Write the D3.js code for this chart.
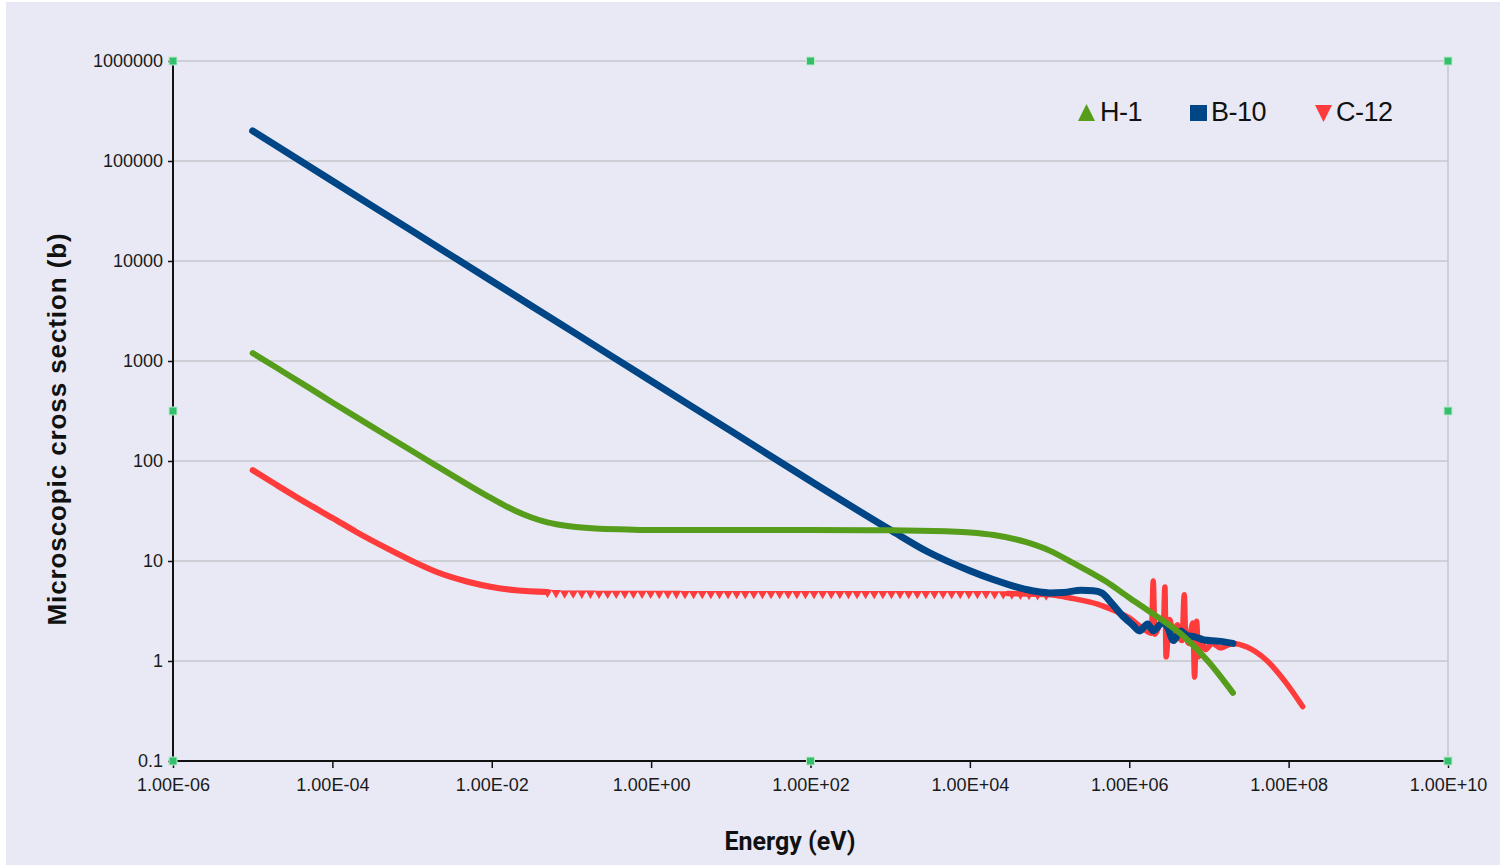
<!DOCTYPE html>
<html><head><meta charset="utf-8">
<script src="https://cdn.jsdelivr.net/npm/d3@7"></script>
<style>
html,body{margin:0;padding:0;background:#fff;}
svg{display:block;}
</style></head>
<body>
<svg id="c" width="1503" height="865"></svg>
<script>
// ---------- data (energy in eV, cross section in barns) ----------
const h1Energy = [1e-5,2e-5,5e-5,1e-4,2e-4,5e-4,1e-3,2e-3,5e-3,1e-2,2e-2,3.16e-2,5e-2,1e-1,2e-1,5e-1,1,10,100,1e3,5e3,1e4,2e4,5e4,1e5,2e5,5e5,1e6,2e6,5e6,1e7,2e7];
const h1Sigma  = [1200,855,545,385,275,176,126,90,58,42.2,31.6,27.2,24.3,22.1,21.1,20.65,20.4,20.4,20.4,20.3,19.8,19.3,18.2,15.5,12.7,9.5,6.3,4.3,2.95,1.72,0.97,0.48];

const b10Energy = [1e-5,1e-4,1e-3,1e-2,1e-1,1,10,100,1e3,3e3,1e4,2e4,5e4,1e5,1.5e5,2.5e5,3.5e5,4.5e5,6e5,8e5,1.1e6,1.35e6,1.7e6,2.0e6,2.6e6,3.0e6,3.6e6,4.4e6,5.3e6,6.5e6,8.7e6,1.3e7,2e7];
const b10Sigma  = [2.0e5,6.3e4,2.0e4,6.3e3,2.0e3,630,200,63,20.5,12.3,8.0,6.5,5.2,4.8,4.85,5.1,5.05,4.8,3.8,2.9,2.3,2.0,2.35,2.0,2.4,2.2,1.6,2.0,1.8,1.75,1.62,1.58,1.5];

const c12Energy = [1e-5,2e-5,5e-5,1e-4,2e-4,5e-4,1e-3,2e-3,5e-3,1e-2,2e-2,5e-2,1e-1,1,10,100,1e3,1e4,3e4,1e5,2e5,4e5,7e5,1e6,1.5e6,1.9e6,2.0e6,2.1e6,2.4e6,2.7e6,2.8e6,2.9e6,3.2e6,3.6e6,4.0e6,4.3e6,4.6e6,4.9e6,5.1e6,5.6e6,6.0e6,6.3e6,6.6e6,7.0e6,7.4e6,8e6,9e6,1.1e7,1.4e7,2e7,3e7,5.4e7,9.5e7,1.5e8];
const c12Sigma  = [81,57.5,37,27,19.5,13.2,10,7.8,6.2,5.5,5.1,4.9,4.81,4.78,4.76,4.76,4.76,4.76,4.72,4.6,4.2,3.7,3.1,2.7,2.1,1.9,6.3,1.85,2.3,2.6,5.5,1.1,2.6,1.9,2.3,1.7,1.6,4.6,1.8,1.5,2.1,2.4,0.69,2.5,1.1,1.7,1.3,1.5,1.35,1.5,1.38,1.0,0.59,0.35];

const seriesNames = ["H-1","B-10","C-12"];
const seriesColors = ["#579d1c","#004586","#ff3b3b"];
const yTickValues = [0.1,1,10,100,1000,10000,100000,1000000];
const yTickLabels = ["0.1","1","10","100","1000","10000","100000","1000000"];
const xTickValues = [1e-6,1e-4,1e-2,1e0,1e2,1e4,1e6,1e8,1e10];
const xTickLabels = ["1.00E-06","1.00E-04","1.00E-02","1.00E+00","1.00E+02","1.00E+04","1.00E+06","1.00E+08","1.00E+10"];

// ---------- layout ----------
const svg = d3.select("#c");
const L = 173, R = 1448, T = 61, B = 761;
const x = d3.scaleLog().domain([1e-6,1e10]).range([L,R]);
const y = d3.scaleLog().domain([0.1,1e6]).range([B,T]);

svg.append("rect").attr("x",6).attr("y",2).attr("width",1494).attr("height",863).attr("fill","#e8e9f4");

// grid
svg.append("g").selectAll("line").data(yTickValues).join("line")
  .attr("x1",L).attr("x2",R).attr("y1",d=>y(d)).attr("y2",d=>y(d))
  .attr("stroke","#c4c4cc").attr("stroke-width",1.5);
svg.append("line").attr("x1",R).attr("x2",R).attr("y1",T).attr("y2",B)
  .attr("stroke","#c4c4cc").attr("stroke-width",1.5);

// axes
const font = "'Liberation Sans', Arial, sans-serif";
const yAxis = d3.axisLeft(y).tickValues(yTickValues).tickFormat((d,i)=>yTickLabels[i]).tickSize(5).tickPadding(5);
const gy = svg.append("g").attr("transform",`translate(${L},0)`).call(yAxis);
const xAxis = d3.axisBottom(x).tickValues(xTickValues).tickFormat((d,i)=>xTickLabels[i]).tickSize(7).tickPadding(10);
const gx = svg.append("g").attr("transform",`translate(0,${B})`).call(xAxis);
[gx,gy].forEach(g=>{
  g.select(".domain").attr("stroke","#111").attr("stroke-width",2);
  g.selectAll(".tick line").attr("stroke","#111").attr("stroke-width",1.5);
  g.selectAll(".tick text").attr("font-family",font).attr("font-size",18).attr("fill","#1a1a1a");
});
gx.select(".domain").attr("d",`M${L},0H${R}`);
gy.select(".domain").attr("d",`M0,${T}V${B}`);

// series
const line = d3.line().x(d=>x(d[0])).y(d=>y(d[1])).curve(d3.curveMonotoneX);
const zip = (a,b)=>a.map((v,i)=>[v,b[i]]);
const h1 = zip(h1Energy,h1Sigma), b10 = zip(b10Energy,b10Sigma), c12 = zip(c12Energy,c12Sigma);

// C-12: line in 1/v and fast regions, dense triangle markers on the flat plateau
const c12Low = c12.filter(d=>d[0]<=5e-2);
const c12Mid = c12.filter(d=>d[0]>=5e-2 && d[0]<=1e5);
const c12High = c12.filter(d=>d[0]>=3e4);
const g = svg.append("g").attr("fill","none").attr("stroke-linejoin","round").attr("stroke-linecap","round");
g.append("path").attr("d",line(c12Low)).attr("stroke",seriesColors[2]).attr("stroke-width",6);
g.append("path").attr("d",line(c12High)).attr("stroke",seriesColors[2]).attr("stroke-width",5.5);
const midPath = g.append("path").attr("d",line(c12Mid)).attr("stroke","none");
const node = midPath.node(), len = node.getTotalLength();
const tri = d3.symbol().type(d3.symbolTriangle).size(40)();
const pts = d3.range(0,len,8.6).map(l=>node.getPointAtLength(l));
g.append("g").attr("stroke","none").selectAll("path").data(pts).join("path")
  .attr("d",tri).attr("transform",p=>`translate(${p.x},${p.y+0.5}) rotate(180)`).attr("fill",seriesColors[2]);

g.append("path").attr("d",line(b10)).attr("stroke",seriesColors[1]).attr("stroke-width",7);
g.append("path").attr("d",line(h1)).attr("stroke",seriesColors[0]).attr("stroke-width",6);

// selection handles
const handles = [[L,T],[(L+R)/2,T],[R,T],[L,(T+B)/2],[R,(T+B)/2],[L,B],[(L+R)/2,B],[R,B]];
svg.append("g").selectAll("rect").data(handles).join("rect")
  .attr("x",d=>d[0]-4).attr("y",d=>d[1]-4).attr("width",8).attr("height",8)
  .attr("fill","#32c06c").attr("stroke","#bfe9cc").attr("stroke-width",1);

// legend
const legX = [1078,1190,1315], legTextX = [1100,1211,1336];
const lg = svg.append("g");
seriesNames.forEach((n,i)=>{
  const cx = legX[i]+8.5, cy = 113;
  if(i===0) lg.append("path").attr("d",`M${cx},${cy-9}L${cx+8.5},${cy+8}L${cx-8.5},${cy+8}Z`).attr("fill",seriesColors[i]);
  if(i===1) lg.append("rect").attr("x",cx-8.5).attr("y",cy-8).attr("width",17).attr("height",16).attr("fill",seriesColors[i]);
  if(i===2) lg.append("path").attr("d",`M${cx-8.5},${cy-8}L${cx+8.5},${cy-8}L${cx},${cy+9}Z`).attr("fill",seriesColors[i]);
  lg.append("text").attr("x",legTextX[i]).attr("y",121).text(n)
    .attr("font-family","'Liberation Sans', Arial, sans-serif").attr("font-size",27).attr("fill","#111")
    .attr("letter-spacing",-0.5);
});

// axis titles
svg.append("text").attr("x",790).attr("y",850).attr("text-anchor","middle")
  .attr("font-family","Roboto, 'Liberation Sans', sans-serif").attr("font-weight",700).attr("font-size",25)
  .attr("fill","#111").text("Energy (eV)");
svg.append("text").attr("transform","translate(66,429) rotate(-90)").attr("text-anchor","middle")
  .attr("font-family","'Liberation Sans', Arial, sans-serif").attr("font-weight",700).attr("font-size",26)
  .attr("letter-spacing",0.9)
  .attr("fill","#111").text("Microscopic cross section (b)");
</script>
</body></html>
